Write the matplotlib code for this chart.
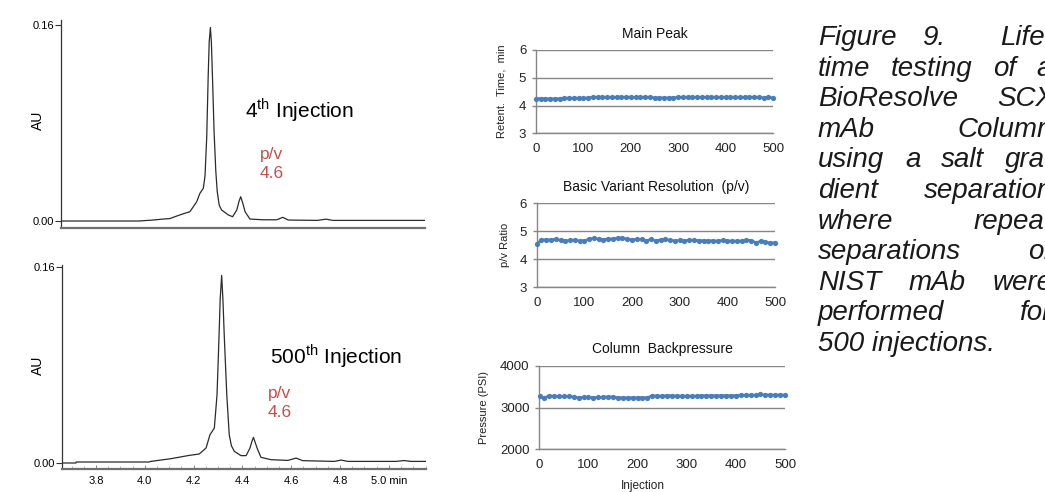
import matplotlib.pyplot as plt
from matplotlib.ticker import MultipleLocator

plt.rcParams['font.family'] = 'Liberation Sans'
plt.rcParams['mathtext.fontset'] = 'custom'
plt.rcParams['mathtext.rm'] = 'Liberation Sans'

W, H = 1045, 492

# chromatogram traces (time in min, absorbance in AU)
t4 = [3.661, 3.980, 4.038, 4.080, 4.107, 4.148, 4.189, 4.217, 4.230, 4.244,
      4.251, 4.258, 4.264, 4.268, 4.273, 4.277, 4.282, 4.288, 4.295, 4.301,
      4.309, 4.319, 4.346, 4.364, 4.381, 4.390, 4.397, 4.405, 4.415, 4.435,
      4.490, 4.545, 4.569, 4.592, 4.709, 4.747, 4.775, 5.152]
au4 = [0.0, 0.0, 0.0008, 0.0016, 0.002, 0.005, 0.0076, 0.0158, 0.0226, 0.0267,
       0.037, 0.069, 0.119, 0.146, 0.158, 0.146, 0.114, 0.073, 0.041, 0.024,
       0.013, 0.009, 0.005, 0.0035, 0.009, 0.016, 0.0198, 0.015, 0.0076, 0.0016,
       0.001, 0.001, 0.003, 0.0008, 0.0005, 0.0015, 0.0005, 0.0005]

t500 = [3.661, 3.718, 3.719, 4.017, 4.025, 4.107, 4.182, 4.223, 4.251, 4.267,
        4.285, 4.296, 4.304, 4.309, 4.315, 4.320, 4.326, 4.336, 4.346, 4.355,
        4.367, 4.394, 4.415, 4.431, 4.438, 4.445, 4.452, 4.460, 4.476, 4.517,
        4.586, 4.620, 4.647, 4.777, 4.804, 4.832, 5.030, 5.062, 5.091, 5.152]
au500 = [0.0, 0.0, 0.0008, 0.0008, 0.0013, 0.0035, 0.0062, 0.0073, 0.0122, 0.023,
         0.0285, 0.0556, 0.102, 0.134, 0.153, 0.134, 0.102, 0.0556, 0.023, 0.014,
         0.0095, 0.006, 0.006, 0.0122, 0.017, 0.0209, 0.017, 0.0122, 0.0046, 0.0027,
         0.0021, 0.004, 0.0019, 0.0013, 0.0024, 0.0013, 0.0013, 0.0020, 0.0013, 0.0013]

chrom_ticks = [3.8, 4.0, 4.2, 4.4, 4.6, 4.8, 5.0]
chrom_labels = ['3.8', '4.0', '4.2', '4.4', '4.6', '4.8', '5.0 min']

# lifetime test series
injections = [1, 10, 20, 30, 40, 50, 60, 70, 80, 90, 100, 110, 120, 130, 140, 150,
              160, 170, 180, 190, 200, 210, 220, 230, 240, 250, 260, 270, 280, 290,
              300, 310, 320, 330, 340, 350, 360, 370, 380, 390, 400, 410, 420, 430,
              440, 450, 460, 470, 480, 490, 500]
main_peak = [4.25, 4.25, 4.25, 4.24, 4.25, 4.25, 4.27, 4.27, 4.27, 4.27, 4.27, 4.28,
             4.30, 4.30, 4.30, 4.30, 4.30, 4.30, 4.30, 4.30, 4.30, 4.30, 4.30, 4.30,
             4.30, 4.28, 4.28, 4.28, 4.28, 4.28, 4.30, 4.30, 4.30, 4.30, 4.30, 4.30,
             4.30, 4.30, 4.30, 4.30, 4.30, 4.30, 4.30, 4.30, 4.30, 4.30, 4.30, 4.30,
             4.28, 4.30, 4.28]
pv_ratio = [4.55, 4.70, 4.70, 4.70, 4.72, 4.68, 4.66, 4.68, 4.69, 4.65, 4.67, 4.72,
            4.76, 4.72, 4.70, 4.74, 4.72, 4.77, 4.75, 4.73, 4.70, 4.72, 4.71, 4.67,
            4.71, 4.66, 4.70, 4.71, 4.68, 4.66, 4.68, 4.66, 4.69, 4.68, 4.67, 4.67,
            4.66, 4.67, 4.65, 4.68, 4.65, 4.66, 4.65, 4.66, 4.69, 4.67, 4.60, 4.64,
            4.63, 4.58, 4.60]
pressure = [3270, 3230, 3290, 3270, 3270, 3270, 3270, 3260, 3240, 3250, 3250, 3240,
            3250, 3250, 3260, 3260, 3240, 3240, 3240, 3240, 3240, 3240, 3240, 3290,
            3280, 3280, 3290, 3290, 3280, 3280, 3280, 3280, 3280, 3290, 3290, 3290,
            3290, 3290, 3290, 3290, 3290, 3300, 3300, 3300, 3300, 3320, 3300, 3310,
            3300, 3310, 3300]

# caption lines; the last word of most lines runs past the right edge
caption = [
    ["Figure", "9.", "Life-"],
    ["time", "testing", "of", "a"],
    ["BioResolve", "SCX"],
    ["mAb", "Column"],
    ["using", "a", "salt", "gra-"],
    ["dient", "separation"],
    ["where", "repeat"],
    ["separations", "of"],
    ["NIST", "mAb", "were"],
    ["performed", "for"],
    ["500 injections."],
]
# visible part of the last word: (prefix, fraction of the next letter)
caption_cut = [("Life", 0.0), ("", 0.55), ("SC", 0.5), ("Colum", 0.5), ("gra", 0.0),
               ("separatio", 0.5), ("repea", 0.15), ("o", 0.2), ("wer", 0.5),
               ("fo", 0.25), None]
gap_weights = [[1, 2.2], None, None, None, None, None, None, None, None, None, None]


def box(left, top, right, bottom):
    # pixel box -> figure fraction rect
    return [left / W, 1 - bottom / H, (right - left) / W, (bottom - top) / H]


fig = plt.figure(figsize=(W / 100, H / 100), dpi=100)
red = '#c0504d'
blue = '#4a7ebb'

# ---- chromatograms
chroms = [
    (box(61, 20, 425, 228), t4, au4, (-0.0057, 0.1641), r'4$^{\rm th}$ Injection',
     (245, 117), (260, 159), (260, 178), 120, False),
    (box(62, 265, 426, 469), t500, au500, (-0.0049, 0.1615), r'500$^{\rm th}$ Injection',
     (270, 363), (268, 398), (268, 417), 365, True),
]
for rect, t, au, ylim, name, npos, ppos, vpos, au_y, show_x in chroms:
    ax = fig.add_axes(rect)
    ax.plot(t, au, color='#2b2b2b', lw=0.9)
    ax.set_xlim(3.661, 5.152)
    ax.set_ylim(*ylim)
    ax.set_yticks([0.0, 0.16])
    ax.set_yticklabels(['0.00', '0.16'])
    ax.tick_params(axis='y', labelsize=8, length=4, width=0.8, pad=1, color='#333333')
    for s in ['top', 'right']:
        ax.spines[s].set_visible(False)
    ax.spines['left'].set_color('#333333')
    ax.spines['left'].set_linewidth(0.9)
    ax.spines['bottom'].set_color('#707070')
    ax.spines['bottom'].set_linewidth(1.6)
    if show_x:
        ax.set_xticks(chrom_ticks)
        ax.set_xticklabels(chrom_labels)
        ax.xaxis.set_minor_locator(MultipleLocator(0.05))
        ax.tick_params(axis='x', which='major', direction='in', length=3, width=0.6,
                       labelsize=8, pad=5, color='#707070')
        ax.tick_params(axis='x', which='minor', direction='in', length=2, width=0.5,
                       color='#909090')
    else:
        ax.set_xticks([])
    fig.text(npos[0] / W, 1 - npos[1] / H, name, fontsize=15, va='baseline', ha='left')
    fig.text(ppos[0] / W, 1 - ppos[1] / H, 'p/v', fontsize=12.5, color=red,
             va='baseline', ha='left')
    fig.text(vpos[0] / W, 1 - vpos[1] / H, '4.6', fontsize=12.5, color=red,
             va='baseline', ha='left')
    fig.text(38 / W, 1 - au_y / H, 'AU', fontsize=10, rotation=90, va='center', ha='center')

# ---- lifetime plots
panels = [
    (box(536, 50, 773, 133.3), main_peak, (3, 6), [3, 4, 5, 6], 'Main Peak',
     'Retent.  Time,  min', 501),
    (box(536.7, 203.3, 775, 287.3), pv_ratio, (3, 6), [3, 4, 5, 6],
     'Basic Variant Resolution  (p/v)', 'p/v Ratio', 505),
    (box(539.3, 366, 785, 449.3), pressure, (2000, 4000), [2000, 3000, 4000],
     'Column  Backpressure', 'Pressure (PSI)', 484),
]
for rect, vals, ylim, yt, title, ylab, ylab_x in panels:
    ax = fig.add_axes(rect)
    ax.plot(injections, vals, color=blue, lw=1.8, marker='o', ms=3.8,
            markeredgewidth=0, clip_on=False, zorder=3)
    ax.set_xlim(0, 500)
    ax.set_ylim(*ylim)
    ax.set_yticks(yt)
    ax.set_xticks([0, 100, 200, 300, 400, 500])
    ax.grid(axis='y', color='#868686', lw=1)
    ax.set_axisbelow(True)
    for s in ['top', 'right']:
        ax.spines[s].set_visible(False)
    for s in ['left', 'bottom']:
        ax.spines[s].set_color('#868686')
        ax.spines[s].set_linewidth(1)
    ax.tick_params(axis='x', length=0, pad=7, labelsize=9.5, labelcolor='#222222')
    ax.tick_params(axis='y', length=3, width=1, color='#868686', pad=4, labelsize=9.5,
                   labelcolor='#222222')
    ax.set_title(title, fontsize=10, pad=9, color='#111111')
    pos = ax.get_position()
    fig.text(ylab_x / W, pos.y0 + pos.height / 2, ylab, fontsize=8, rotation=90,
             va='center', ha='center', color='#222222')

fig.text(643 / W, 1 - 486.5 / H, 'Injection', fontsize=8.5, ha='center', va='center',
         color='#222222')

# ---- caption: justified italic text that runs past the right edge
cap_style = dict(fontsize=20, style='italic', color='#1a1a1a', va='baseline', ha='left')
renderer = fig.canvas.get_renderer()


def text_w(s):
    if not s:
        return 0.0
    tmp = fig.text(0, 0, s, **cap_style)
    w = tmp.get_window_extent(renderer=renderer).width
    tmp.remove()
    return w


x0, right = 818, 1045
for i, words in enumerate(caption):
    yb = 45 + 30.6 * i
    cut = caption_cut[i]
    if cut is None:
        xs = [x0]
    else:
        last = words[-1]
        prefix, frac = cut
        vis = text_w(prefix)
        if frac:
            vis += frac * (text_w(last[:len(prefix) + 1]) - vis)
        x_last = right - vis
        widths = [text_w(w) for w in words[:-1]]
        n_gaps = len(words) - 1
        wts = gap_weights[i] or [1] * n_gaps
        free = x_last - x0 - sum(widths)
        xs = [x0]
        for k in range(n_gaps - 1):
            xs.append(xs[-1] + widths[k] + free * wts[k] / sum(wts))
        xs.append(x_last)
    for word, x in zip(words, xs):
        fig.text(x / W, 1 - yb / H, word, **cap_style)

fig.savefig('out.png', dpi=100)
